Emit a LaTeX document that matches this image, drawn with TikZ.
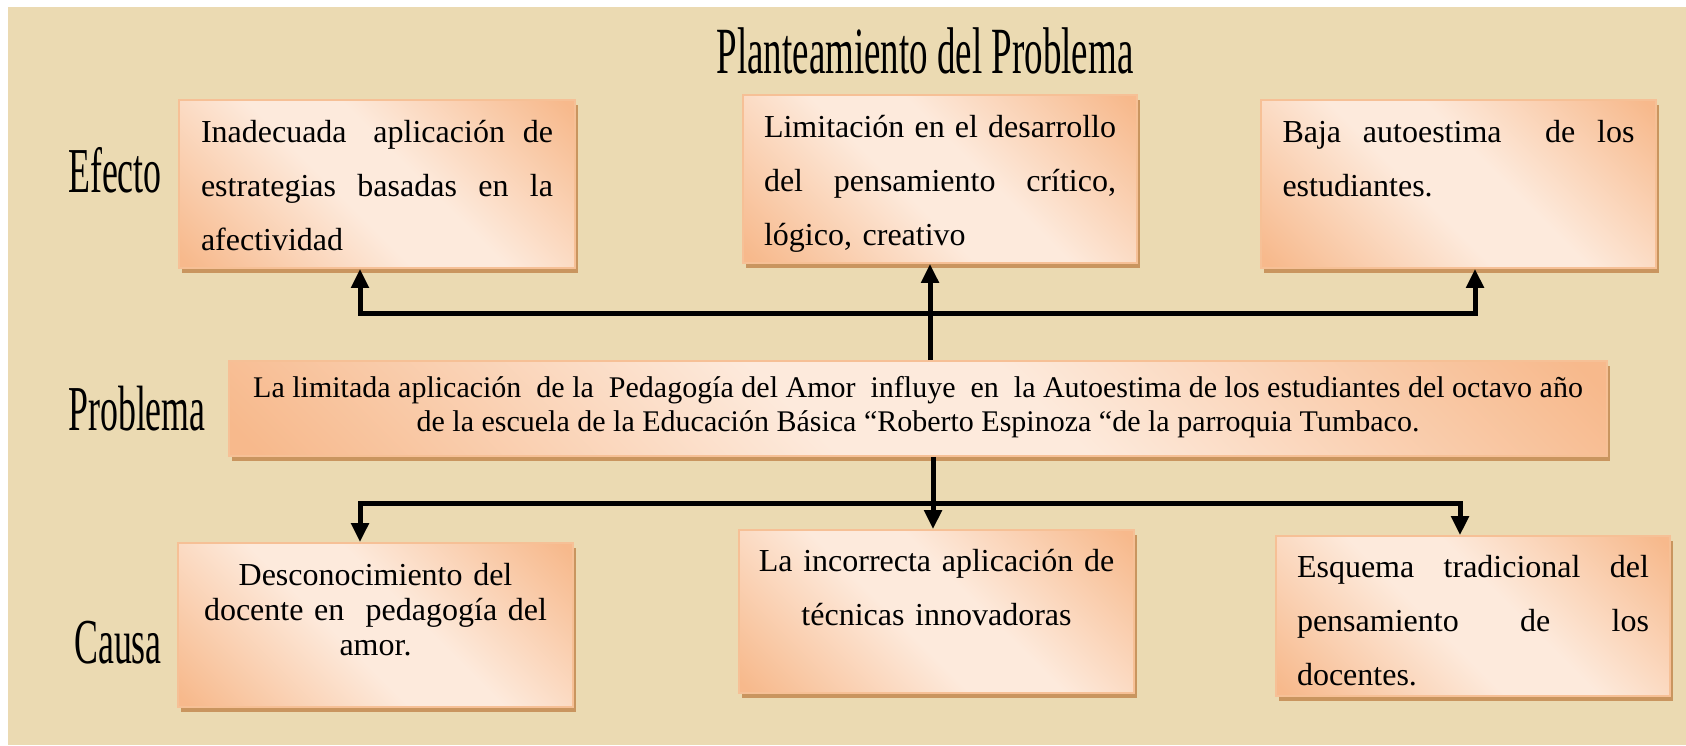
\documentclass[tikz,border=0pt]{standalone}
\usepackage{fontspec}
\setmainfont{Liberation Serif}
\newfontfamily\estrecha{Liberation Serif}[FakeStretch=0.56]
\usetikzlibrary{positioning,shadows,arrows.meta}
\definecolor{papel}{HTML}{EBDAB2}
\definecolor{naranja}{HTML}{F7B98C}
\definecolor{claro}{HTML}{FDEADC}
\definecolor{borde}{HTML}{F6C096}
\definecolor{sombra}{HTML}{C9955F}
\pgfdeclarehorizontalshading{cajagrad}{100bp}{color(0bp)=(naranja); color(16bp)=(naranja); color(44bp)=(claro); color(56bp)=(claro); color(84bp)=(naranja); color(100bp)=(naranja)}
\newcommand{\justa}[1]{\leavevmode\hbox to 176pt{#1}}
\newcommand{\hh}{\hspace{0pt plus 2fill}}
\tikzset{
  caja/.style={draw=borde, line width=0.8pt, shading=cajagrad, shading angle=45,
    minimum width=197.5pt, minimum height=84pt, inner sep=0pt,
    general shadow={fill=sombra, shadow xshift=1.5pt, shadow yshift=-2.5pt}},
  texto/.style={inner sep=0pt, text width=176pt, align=left, font=\fontsize{16}{27}\selectfont},
  ptexto/.style={inner sep=0pt, align=center, font=\fontsize{15}{17}\selectfont},
  rotulo/.style={inner sep=0pt, anchor=base, font=\estrecha\fontsize{32}{36}\selectfont},
  linea/.style={line width=2.5pt},
  flecha/.style={linea, -{Triangle[length=9.5pt,width=8.5pt]}}
}
\begin{document}
\begin{tikzpicture}[x=0.5pt,y=-0.5pt]
\useasboundingbox (0,0) rectangle (1686,745);
\fill[papel] (8,7) rectangle (1686,745);

\node[rotulo, font=\estrecha\fontsize{33}{36}\selectfont] (titulo) at (925,73) {Planteamiento del Problema};
\node[rotulo] (efecto) at (115,192) {Efecto};
\node[rotulo] (problema) at (137,430) {Problema};
\node[rotulo] (causa) at (118,663) {Causa};

% efectos
\node[caja, minimum width=198pt] (e1) at (377,184) {};
\node[caja, minimum width=197pt] (e2) at (940,179) {};
\node[caja] (e3) at (1458.5,184) {};
\node[texto, below=2.5pt of e1.north] (e1t) {\strut\justa{Inadecuada\hspace{0pt plus 1.5fill}aplicación\hfill de}\\\justa{estrategias\hfill basadas\hfill en\hfill la}\\afectividad};
\node[texto, below=2.5pt of e2.north] (e2t) {\strut\justa{Limitación\hfill en\hfill el\hfill desarrollo}\\\justa{del\hfill pensamiento\hfill crítico,}\\lógico, creativo};
\node[texto, below=2.5pt of e3.north] (e3t) {\strut\justa{Baja\hfill autoestima\hh de\hfill los}\\estudiantes.};

% problema
\node[caja, minimum width=689pt, minimum height=47.5pt] (p) at (918,408.5) {};
\node[ptexto, below=6.5pt of p.north] (pt) {\strut La limitada aplicación~ de la~ Pedagogía del Amor~ influye~ en~ la Autoestima de los estudiantes del octavo año\\de la escuela de la Educación Básica “Roberto Espinoza “de la parroquia Tumbaco.};

% causas
\node[caja, minimum height=82pt] (c1) at (375.5,625) {};
\node[caja, minimum height=81.5pt] (c2) at (936.5,611.5) {};
\node[caja, minimum width=197pt, minimum height=80pt] (c3) at (1473,616) {};
\node[texto, align=center, font=\fontsize{16}{17.5}\selectfont, below=9pt of c1.north] (c1t) {\strut Desconocimiento del\\docente en~ pedagogía del\\amor.};
\node[texto, text width=186pt, align=center, below=2pt of c2.north] (c2t) {\strut La incorrecta aplicación de\\técnicas innovadoras};
\node[texto, below=2pt of c3.north] (c3t) {\strut\justa{Esquema\hfill tradicional\hfill del}\\\justa{pensamiento\hfill de\hfill los}\\docentes.};

\coordinate (ta) at (930,313);
\coordinate (tl) at (360,313);
\coordinate (tr) at (1475,313);
\coordinate (ba) at (933,503);
\coordinate (bl) at (360,503);
\coordinate (br) at (1460,503);

\draw[flecha] (ta |- p.north) -- (ta |- e2.south);
\draw[flecha] (ta) -- (tl) -- (tl |- e1.south);
\draw[flecha] (ta) -- (tr) -- (tr |- e3.south);
\draw[flecha] (ba |- p.south) -- (ba |- c2.north);
\draw[flecha] (ba) -- (bl) -- (bl |- c1.north);
\draw[flecha] (ba) -- (br) -- (br |- c3.north);
\end{tikzpicture}
\end{document}
